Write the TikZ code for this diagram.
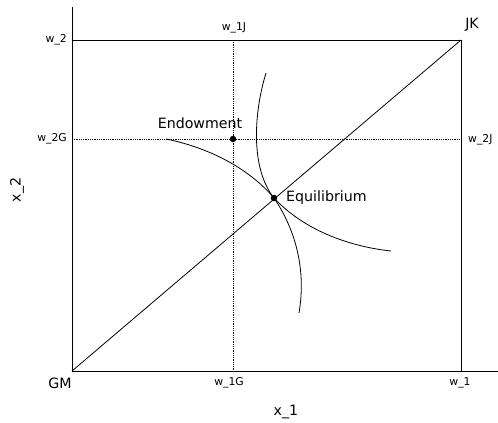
\documentclass[tikz,border=0pt]{standalone}
\usepackage{fontspec}
\setmainfont{DejaVu Sans}
\usepackage{tikz}
\usetikzlibrary{positioning}

\begin{document}
\begin{tikzpicture}[
    x=1pt, y=-1pt,
    lbl/.style={font=\fontsize{10.8}{13}\selectfont, inner sep=0pt},
    big/.style={font=\fontsize{14.2}{17}\selectfont, inner sep=0pt},
    guide/.style={densely dotted, thick},
    pt/.style={circle, fill, inner sep=0pt, minimum size=6.5pt},
    curve/.style={thick}
]
    \useasboundingbox (0,0) rectangle (498,423);
    % box corners
    \coordinate (GM) at (72,371);
    \coordinate (JK) at (461,40);
    \coordinate (ytop) at (72,7);
    \coordinate (xend) at (498,371);
    \coordinate (w2) at (72,40);
    \coordinate (w1) at (461,371);
    \coordinate (w1J) at (233,40);
    \coordinate (w1G) at (233,371);
    \coordinate (w2G) at (72,139);
    \coordinate (w2J) at (461,139);

    \draw[thick] (ytop) -- (GM) -- (xend);
    \draw[thick] (w2) -- (JK) -- (w1);
    \draw[thick] (GM) -- (JK);
    \draw[guide] (w1J) -- (w1G);
    \draw[guide] (w2G) -- (w2J);

    \node[pt] (endow) at (233,139) {};
    \node[pt] (equil) at (274,198) {};

    % indifference curves
    \draw[curve] (166,139) .. controls (215,149) and (252,172) .. (equil.center)
        .. controls (302,228) and (345,246) .. (391,251);
    \draw[curve] (266,73) .. controls (254,112) and (250,168) .. (equil.center)
        .. controls (297,232) and (306,272) .. (299,313);

    \node[big] (lendow) at (200,123) {Endowment};
    \node[big, anchor=west] (lequil) at (286,198) {Equilibrium};

    \node[lbl, anchor=east] (lw2) at (67,40) {w\_2};
    \node[lbl, anchor=east] (lw2G) at (67,139) {w\_2G};
    \node[lbl, anchor=west] (lw2J) at (468,140) {w\_2J};
    \node[lbl] (lw1J) at (234,28) {w\_1J};
    \node[lbl] (lw1G) at (229,383) {w\_1G};
    \node[lbl] (lw1) at (460,383) {w\_1};
    \node[big] (lJK) at (472,25) {JK};
    \node[big] (lGM) at (60,383) {GM};
    \node[big] (lx1) at (286,412) {x\_1};
    \node[big, rotate=90] (lx2) at (17,190) {x\_2};
\end{tikzpicture}
\end{document}
